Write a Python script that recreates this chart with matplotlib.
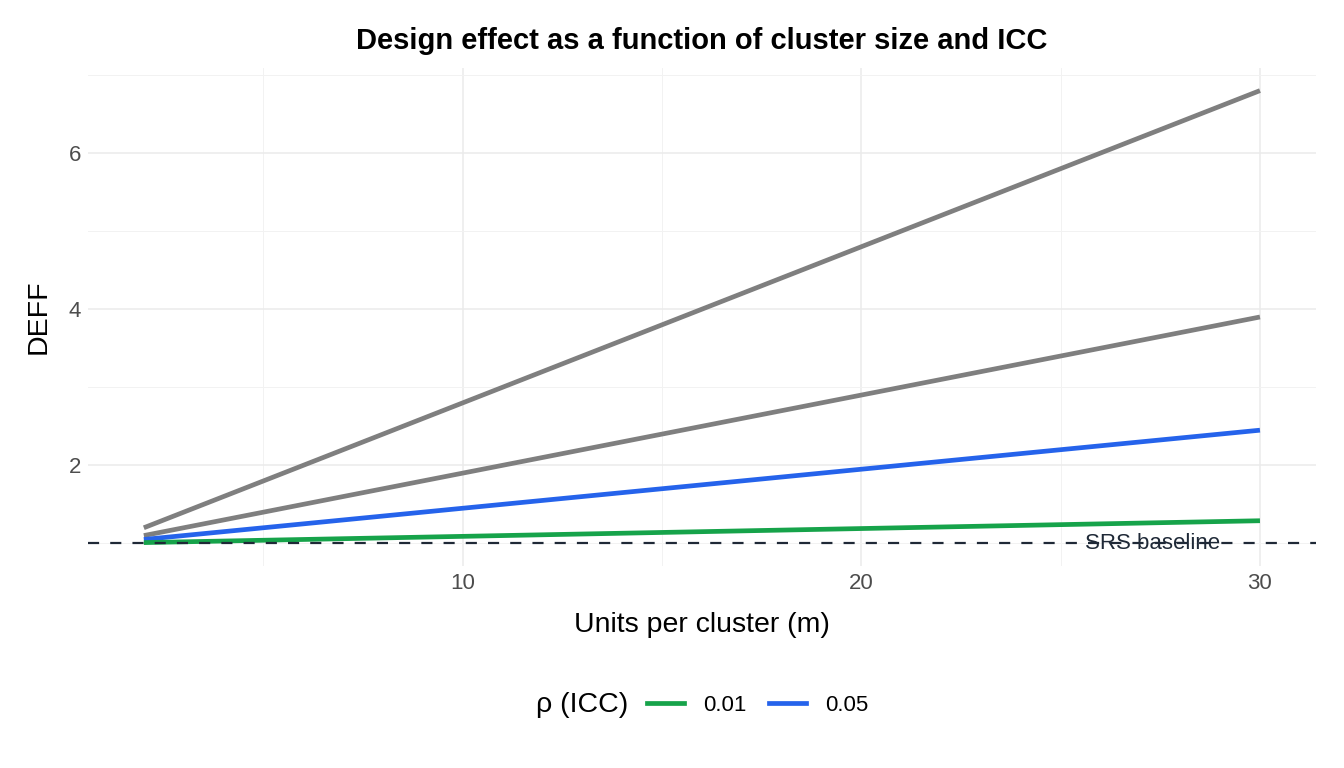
import matplotlib
matplotlib.use("Agg")
import matplotlib.pyplot as plt
from matplotlib.lines import Line2D
from matplotlib.ticker import MultipleLocator

m = [2, 5, 10, 15, 20, 25, 30]
deff_001 = [1.01, 1.04, 1.09, 1.14, 1.19, 1.24, 1.29]
deff_005 = [1.05, 1.20, 1.45, 1.70, 1.95, 2.20, 2.45]
deff_010 = [1.10, 1.40, 1.90, 2.40, 2.90, 3.40, 3.90]
deff_020 = [1.20, 1.80, 2.80, 3.80, 4.80, 5.80, 6.80]
baseline = 1.0

green = '#16a34a'
blue = '#2563eb'
grey = '#7f7f7f'

plt.rcParams['font.family'] = ['Liberation Sans', 'DejaVu Sans']

fig = plt.figure(figsize=(13.44, 7.68), dpi=100)
ax = fig.add_axes([0.0655, 0.263, 0.9135, 0.6485])

lw = 3.4
ax.plot(m, deff_020, color=grey, lw=lw, solid_capstyle='butt', zorder=3)
ax.plot(m, deff_010, color=grey, lw=lw, solid_capstyle='butt', zorder=3)
ax.plot(m, deff_005, color=blue, lw=lw, solid_capstyle='butt', zorder=3)
ax.plot(m, deff_001, color=green, lw=lw, solid_capstyle='butt', zorder=3)
ax.axhline(baseline, color='#1f2937', lw=1.6, ls=(0, (5, 5)), zorder=4)
ax.text(27.3, baseline, 'SRS baseline', ha='center', va='center',
        fontsize=16, color='#1f2937', zorder=5)

ax.set_xlim(0.6, 31.4)
ax.set_ylim(0.71, 7.09)
ax.xaxis.set_major_locator(MultipleLocator(10))
ax.xaxis.set_minor_locator(MultipleLocator(5))
ax.yaxis.set_major_locator(MultipleLocator(2))
ax.yaxis.set_minor_locator(MultipleLocator(1))
ax.grid(which='major', color='#ebebeb', lw=1.1)
ax.grid(which='minor', color='#f2f2f2', lw=0.7)
ax.set_axisbelow(True)
for s in ax.spines.values():
    s.set_visible(False)
ax.tick_params(which='both', length=0, labelsize=16, labelcolor='#4d4d4d', pad=5)

ax.set_xlabel('Units per cluster (m)', fontsize=20.5, labelpad=13)
ax.set_ylabel('DEFF', fontsize=20.5, labelpad=12)
ax.set_title('Design effect as a function of cluster size and ICC',
             fontsize=21, fontweight='bold', pad=14)

fig.text(0.399, 0.082, 'ρ (ICC)', fontsize=20.5, ha='left', va='center')
handles = [Line2D([0], [0], color=green, lw=lw), Line2D([0], [0], color=blue, lw=lw)]
fig.legend(handles, ['0.01', '0.05'], ncol=2, loc='center left',
           bbox_to_anchor=(0.4814, 0.082), frameon=False, fontsize=16,
           handlelength=1.67, columnspacing=1.0, handletextpad=0.86, borderpad=0,
           borderaxespad=0)

fig.savefig('out.png', dpi=100)
